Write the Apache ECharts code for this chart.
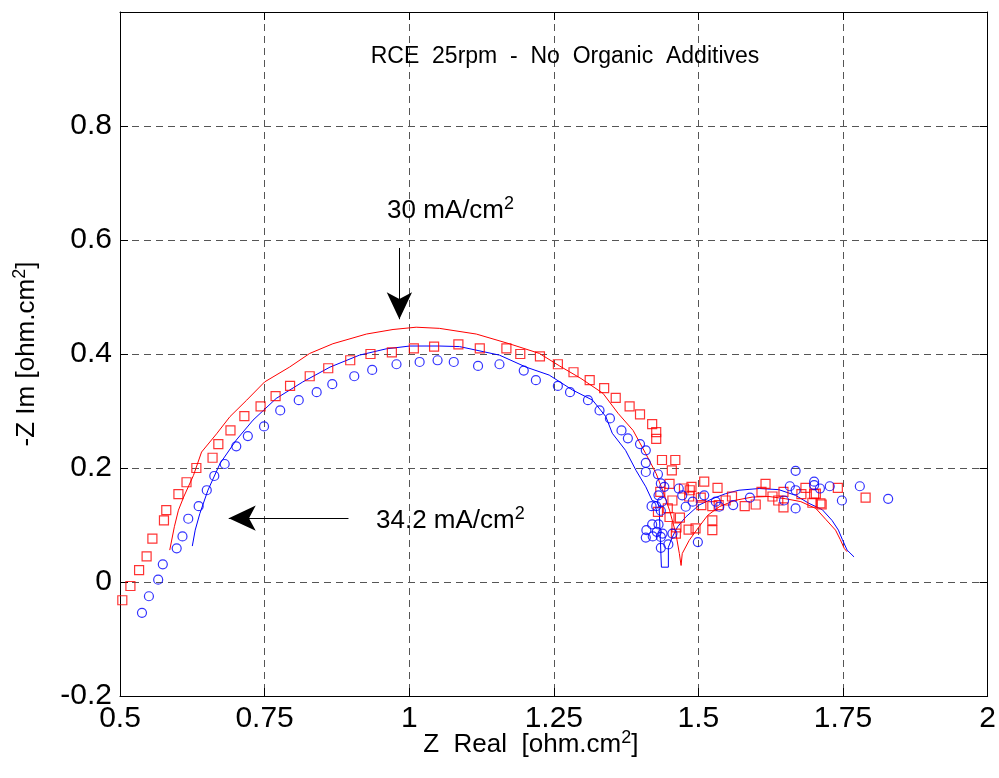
<!DOCTYPE html>
<html>
<head>
<meta charset="utf-8">
<script src="https://cdn.jsdelivr.net/npm/echarts@6/dist/echarts.min.js"></script>
<style>
  html, body { margin: 0; padding: 0; background: #fff; }
  #chart { width: 999px; height: 778px; }
</style>
</head>
<body>
<div id="chart"></div>
<script>
// axis ticks
let xTicks = [0.5, 0.75, 1, 1.25, 1.5, 1.75, 2];
let yTicks = [-0.2, 0, 0.2, 0.4, 0.6, 0.8, 1];

// measured points, 30 mA/cm2 (red squares)
let redPoints = [
  [0.504,-0.032],[0.518,-0.007],[0.533,0.021],[0.546,0.045],[0.556,0.076],[0.576,0.108],[0.580,0.126],
  [0.601,0.154],[0.615,0.175],[0.632,0.200],[0.660,0.218],[0.670,0.242],[0.691,0.266],[0.715,0.291],
  [0.743,0.308],[0.769,0.326],[0.794,0.344],[0.828,0.361],[0.860,0.375],[0.898,0.389],[0.933,0.400],
  [0.970,0.403],[1.008,0.410],[1.043,0.413],[1.085,0.417],[1.122,0.410],[1.168,0.410],[1.192,0.400],
  [1.226,0.396],[1.257,0.382],[1.284,0.368],[1.312,0.354],[1.337,0.340],[1.357,0.323],[1.381,0.308],
  [1.399,0.294],[1.420,0.277],[1.427,0.263],[1.427,0.251],[1.437,0.214],[1.460,0.214],[1.454,0.196],
  [1.450,0.172],[1.434,0.158],[1.455,0.143],[1.430,0.123],[1.447,0.129],[1.450,0.114],[1.468,0.113],
  [1.462,0.096],[1.461,0.085],[1.483,0.092],[1.495,0.094],[1.475,0.164],[1.488,0.167],[1.485,0.161],
  [1.484,0.150],[1.504,0.148],[1.510,0.176],[1.505,0.135],[1.533,0.165],[1.524,0.133],[1.535,0.135],
  [1.524,0.108],[1.524,0.091],[1.547,0.143],[1.558,0.150],[1.580,0.133],[1.599,0.136],[1.609,0.158],
  [1.616,0.172],[1.628,0.150],[1.638,0.143],[1.647,0.158],[1.647,0.131],[1.678,0.154],[1.697,0.139],
  [1.700,0.154],[1.711,0.138],[1.685,0.165],[1.703,0.155],[1.713,0.136],[1.741,0.165],[1.789,0.148]
];

// measured points, 34.2 mA/cm2 (blue circles)
let bluePoints = [
  [0.538,-0.054],[0.550,-0.025],[0.566,0.004],[0.574,0.031],[0.598,0.059],[0.608,0.080],[0.618,0.111],
  [0.636,0.133],[0.650,0.161],[0.663,0.186],[0.681,0.207],[0.701,0.238],[0.721,0.256],[0.749,0.273],
  [0.777,0.301],[0.809,0.319],[0.840,0.333],[0.867,0.347],[0.905,0.361],[0.936,0.372],[0.978,0.382],
  [1.018,0.386],[1.049,0.389],[1.077,0.386],[1.119,0.379],[1.156,0.382],[1.198,0.371],[1.219,0.354],
  [1.257,0.344],[1.278,0.333],[1.309,0.319],[1.329,0.301],[1.347,0.287],[1.367,0.266],[1.378,0.252],
  [1.399,0.242],[1.409,0.231],[1.409,0.209],[1.409,0.193],[1.430,0.189],[1.435,0.173],[1.441,0.167],
  [1.431,0.152],[1.427,0.133],[1.419,0.133],[1.437,0.141],[1.435,0.125],[1.420,0.101],[1.431,0.101],
  [1.410,0.091],[1.409,0.078],[1.421,0.080],[1.435,0.079],[1.438,0.085],[1.448,0.066],[1.435,0.060],
  [1.428,0.088],[1.455,0.085],[1.499,0.070],[1.466,0.164],[1.472,0.152],[1.478,0.132],[1.510,0.152],
  [1.490,0.141],[1.530,0.141],[1.536,0.132],[1.560,0.135],[1.589,0.148],[1.648,0.143],[1.658,0.168],
  [1.668,0.195],[1.668,0.129],[1.668,0.161],[1.700,0.176],[1.700,0.170],[1.710,0.164],[1.727,0.168],
  [1.748,0.143],[1.779,0.168],[1.828,0.146]
];

// fitted curves
let redFit = [
  [0.586,0.056],[0.594,0.097],[0.601,0.126],[0.610,0.149],[0.627,0.187],[0.641,0.228],[0.667,0.260],
  [0.690,0.290],[0.719,0.319],[0.750,0.351],[0.793,0.377],[0.828,0.401],[0.868,0.418],[0.926,0.435],
  [0.972,0.443],[1.012,0.447],[1.052,0.445],[1.116,0.435],[1.173,0.418],[1.225,0.401],[1.260,0.379],
  [1.297,0.357],[1.335,0.331],[1.361,0.296],[1.387,0.266],[1.409,0.225],[1.427,0.190],[1.438,0.161],
  [1.450,0.126],[1.461,0.085],[1.467,0.050],[1.470,0.029],[1.472,0.050],[1.484,0.073],[1.501,0.097],
  [1.516,0.117],[1.536,0.132],[1.562,0.143],[1.593,0.149],[1.622,0.150],[1.651,0.146],[1.677,0.141],
  [1.703,0.129],[1.720,0.110],[1.737,0.091],[1.745,0.075],[1.752,0.059],[1.757,0.053]
];
let blueFit = [
  [0.625,0.063],[0.630,0.091],[0.638,0.120],[0.652,0.161],[0.673,0.208],[0.701,0.249],[0.730,0.284],
  [0.770,0.322],[0.816,0.351],[0.863,0.377],[0.914,0.398],[0.960,0.409],[1.001,0.414],[1.052,0.414],
  [1.087,0.413],[1.156,0.398],[1.202,0.377],[1.242,0.363],[1.282,0.337],[1.317,0.319],[1.340,0.290],
  [1.351,0.261],[1.374,0.231],[1.392,0.196],[1.409,0.167],[1.420,0.143],[1.429,0.140],[1.432,0.132],
  [1.436,0.026],[1.448,0.026],[1.448,0.061],[1.455,0.079],[1.464,0.097],[1.478,0.114],[1.501,0.135],
  [1.524,0.146],[1.547,0.155],[1.570,0.161],[1.605,0.164],[1.639,0.162],[1.668,0.152],[1.691,0.138],
  [1.714,0.127],[1.731,0.108],[1.742,0.091],[1.749,0.074],[1.757,0.056],[1.769,0.044]
];

// annotation arrows (data coords: start, tip)
let arrowDown = [[0.983, 0.586], [0.983, 0.461]];
let arrowLeft = [[0.895, 0.112], [0.688, 0.112]];

let font = 'Liberation Sans, Arial, Helvetica, sans-serif';
let nameRich = {
  sup: { fontSize: 18, verticalAlign: 'bottom', padding: [0, 0, 11, 0], fontFamily: font, color: '#000' },
  n: { fontSize: 26, verticalAlign: 'bottom', fontFamily: font, color: '#000' }
};
let noteRich = {
  n: { fontSize: 26, fontFamily: font, verticalAlign: 'bottom', fill: '#000' },
  sup: { fontSize: 18, fontFamily: font, verticalAlign: 'bottom', padding: [0, 0, 11, 0], fill: '#000' }
};

function fmtX(v) {
  return String(+v.toFixed(2));
}
function fmtY(v) {
  if (v > 0.9) return '';   // no label at the top edge
  return String(+v.toFixed(1));
}

let chart = echarts.init(document.getElementById('chart'), null, { renderer: 'canvas' });

let axisCommon = {
  type: 'value',
  axisLine: { show: true, onZero: false, lineStyle: { color: '#000', width: 1 } },
  axisTick: { show: true, inside: true, length: 8, lineStyle: { color: '#000' } },
  splitLine: { show: false }
};
let gridDash = { show: true, lineStyle: { color: '#555', type: [7, 5], width: 1 } };

let option = {
  backgroundColor: '#fff',
  animation: false,
  grid: { left: 120, top: 12, right: 10, bottom: 82, containLabel: false },
  xAxis: [
    Object.assign({}, axisCommon, {
      min: xTicks[0], max: xTicks[xTicks.length - 1], interval: 0.25,
      position: 'bottom',
      axisLabel: { fontSize: 30, color: '#000', fontFamily: font, margin: 8, formatter: fmtX, showMinLabel: true, showMaxLabel: true, hideOverlap: false },
      splitLine: gridDash,
      name: '{n|Z  Real  [ohm.cm}{sup|2}{n|]}',
      nameLocation: 'middle', nameGap: 33, nameMoveOverlap: false,
      nameTextStyle: { rich: nameRich, padding: [0, 46, 0, 0] }
    }),
    Object.assign({}, axisCommon, {
      min: xTicks[0], max: xTicks[xTicks.length - 1], interval: 0.25,
      position: 'top', axisLabel: { show: false }
    })
  ],
  yAxis: [
    Object.assign({}, axisCommon, {
      min: yTicks[0], max: yTicks[yTicks.length - 1], interval: 0.2,
      position: 'left',
      axisLabel: { fontSize: 30, color: '#000', fontFamily: font, margin: 8, formatter: fmtY, showMinLabel: true },
      splitLine: gridDash,
      name: '{n|-Z Im [ohm.cm}{sup|2}{n|]}',
      nameLocation: 'middle', nameGap: 80, nameMoveOverlap: false,
      nameTextStyle: { rich: nameRich }
    }),
    Object.assign({}, axisCommon, {
      min: yTicks[0], max: yTicks[yTicks.length - 1], interval: 0.2,
      position: 'right', axisLabel: { show: false }
    })
  ],
  series: [
    {
      name: '30 fit', type: 'line', data: redFit, showSymbol: false, symbol: 'none',
      lineStyle: { color: '#ff0000', width: 1 }, z: 3,
      markLine: {
        silent: true, symbol: ['none', 'arrow'], symbolSize: [19, 27],
        lineStyle: { color: '#000', width: 1, type: 'solid' },
        label: { show: false },
        data: [
          [{ coord: arrowDown[0] }, { coord: arrowDown[1] }],
          [{ coord: arrowLeft[0] }, { coord: arrowLeft[1] }]
        ]
      }
    },
    {
      name: '34.2 fit', type: 'line', data: blueFit, showSymbol: false, symbol: 'none',
      lineStyle: { color: '#0000ff', width: 1 }, z: 3
    },
    {
      name: '30 data', type: 'scatter', data: redPoints, symbol: 'rect', symbolSize: 9,
      itemStyle: { color: 'rgba(0,0,0,0)', borderColor: '#ff0000', borderWidth: 1.2 }, z: 4
    },
    {
      name: '34.2 data', type: 'scatter', data: bluePoints, symbol: 'circle', symbolSize: 9,
      itemStyle: { color: 'rgba(0,0,0,0)', borderColor: '#0000ff', borderWidth: 1.2 }, z: 4
    }
  ],
  graphic: [
    {
      type: 'text', x: 565, y: 45, z: 10,
      style: { text: 'RCE  25rpm  -  No  Organic  Additives', fontSize: 23, fontFamily: font, fill: '#000', align: 'center' }
    },
    {
      type: 'text', x: 387, y: 195, z: 10,
      style: { text: '{n|30 mA/cm}{sup|2}', rich: noteRich }
    },
    {
      type: 'text', x: 376, y: 505, z: 10,
      style: { text: '{n|34.2 mA/cm}{sup|2}', rich: noteRich }
    }
  ]
};

chart.setOption(option);
</script>
</body>
</html>
